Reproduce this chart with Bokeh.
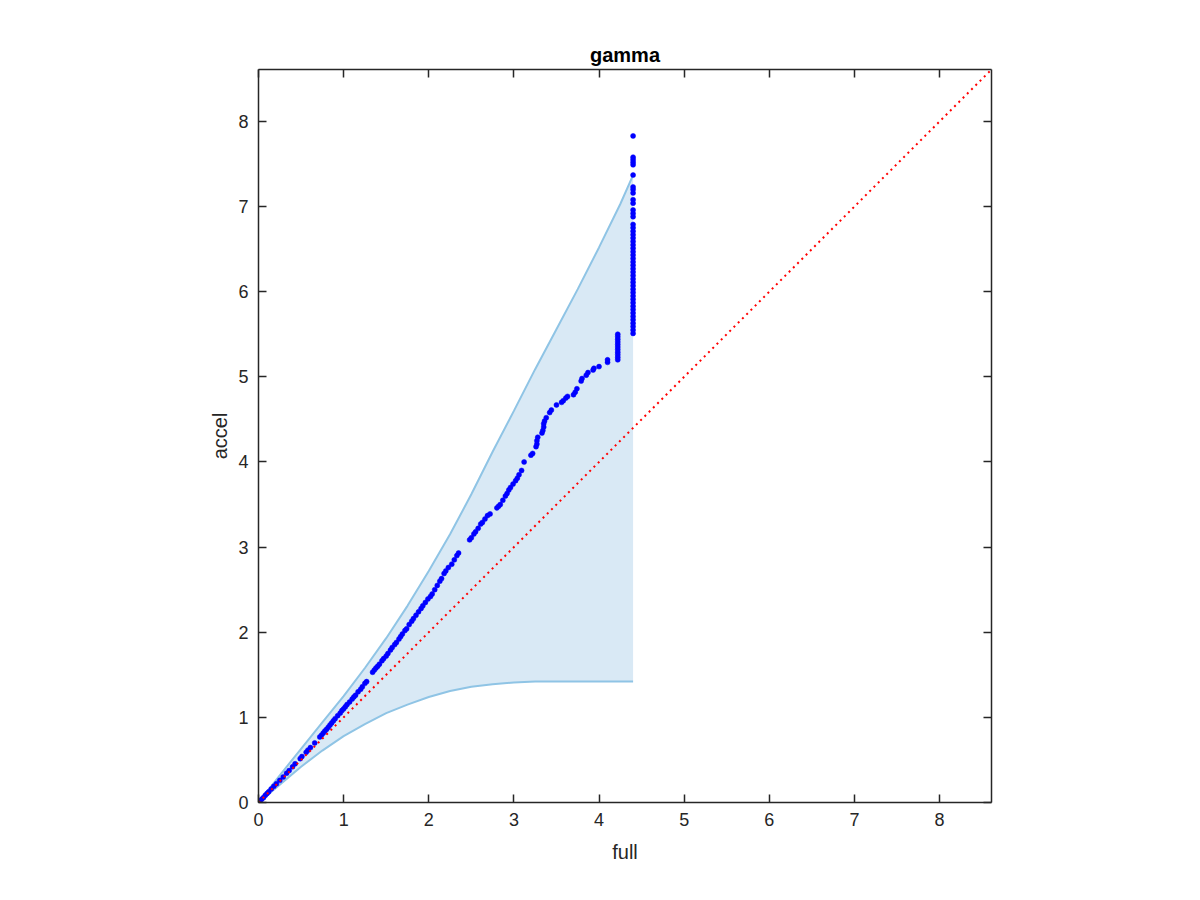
from bokeh.plotting import figure
from bokeh.models import Range1d, LinearAxis, FixedTicker
from bokeh.embed import file_html
from bokeh.resources import INLINE

# ---- data ----
band_x = [0, 0.25, 0.5, 0.75, 1.0, 1.25, 1.5, 1.75, 2.0, 2.25, 2.5, 2.75, 3.0, 3.25, 3.5, 3.75, 4.0, 4.25, 4.4]
band_upper = [0, 0.32, 0.63, 0.94, 1.25, 1.58, 1.93, 2.31, 2.72, 3.15, 3.62, 4.12, 4.60, 5.09, 5.56, 6.03, 6.52, 7.03, 7.37]
band_lower = [0, 0.21, 0.42, 0.61, 0.78, 0.92, 1.05, 1.15, 1.24, 1.31, 1.36, 1.39, 1.41, 1.42, 1.42, 1.42, 1.42, 1.42, 1.42]

full_vals = [
    0.00, 0.02, 0.04, 0.06, 0.08, 0.10, 0.12, 0.15, 0.18, 0.21, 0.25, 0.29, 0.33, 0.36, 0.40, 0.43,
    0.49, 0.51, 0.56, 0.58, 0.61, 0.66,
    0.72, 0.74, 0.76, 0.78, 0.80, 0.82, 0.84, 0.86, 0.88, 0.90, 0.93, 0.96, 0.98, 1.00, 1.02, 1.04,
    1.07, 1.10, 1.12, 1.14, 1.17, 1.20, 1.22, 1.25, 1.27,
    1.34, 1.36, 1.38, 1.40, 1.42, 1.45, 1.47, 1.50, 1.52, 1.55, 1.57, 1.60, 1.62, 1.65, 1.67, 1.69,
    1.72, 1.74, 1.77, 1.80, 1.82, 1.85, 1.88, 1.91, 1.93, 1.96, 1.99, 2.02, 2.04, 2.07, 2.10, 2.13,
    2.15, 2.18, 2.20, 2.23, 2.27, 2.30, 2.33, 2.35,
    2.48, 2.50, 2.53, 2.55, 2.58, 2.61, 2.63, 2.66, 2.69, 2.72, 2.80, 2.82, 2.84, 2.87, 2.90, 2.92,
    2.94, 2.96, 2.99, 3.02, 3.04, 3.06, 3.09, 3.12, 3.20, 3.22, 3.26, 3.27, 3.27, 3.28, 3.33, 3.34,
    3.35, 3.35, 3.36, 3.38, 3.42, 3.44, 3.50, 3.56, 3.58, 3.61, 3.63, 3.70, 3.72, 3.74, 3.79, 3.80,
    3.85, 3.87, 3.93, 3.94, 4.00, 4.10, 4.10,
    4.22, 4.22, 4.22, 4.22, 4.22, 4.22, 4.22, 4.22, 4.22, 4.22, 4.22,
    4.40, 4.40, 4.40, 4.40, 4.40, 4.40, 4.40, 4.40, 4.40, 4.40, 4.40, 4.40, 4.40, 4.40, 4.40, 4.40,
    4.40, 4.40, 4.40, 4.40, 4.40, 4.40, 4.40, 4.40, 4.40, 4.40, 4.40, 4.40, 4.40, 4.40, 4.40, 4.40,
    4.40, 4.40, 4.40, 4.40, 4.40, 4.40, 4.40, 4.40, 4.40, 4.40, 4.40, 4.40, 4.40, 4.40, 4.40,
]
accel_vals = [
    0.00, 0.02, 0.04, 0.06, 0.085, 0.105, 0.125, 0.16, 0.19, 0.22, 0.26, 0.30, 0.345, 0.375, 0.42, 0.455,
    0.515, 0.54, 0.59, 0.615, 0.645, 0.70,
    0.77, 0.79, 0.815, 0.84, 0.86, 0.885, 0.91, 0.935, 0.96, 0.985, 1.02, 1.05, 1.08, 1.10, 1.125, 1.15,
    1.18, 1.215, 1.24, 1.26, 1.30, 1.33, 1.36, 1.40, 1.42,
    1.53, 1.555, 1.58, 1.60, 1.625, 1.665, 1.69, 1.72, 1.75, 1.79, 1.82, 1.855, 1.88, 1.92, 1.95, 1.98,
    2.02, 2.04, 2.09, 2.13, 2.16, 2.20, 2.24, 2.28, 2.31, 2.35, 2.39, 2.42, 2.45, 2.50, 2.55, 2.60,
    2.63, 2.69, 2.72, 2.76, 2.80, 2.85, 2.90, 2.93,
    3.085, 3.11, 3.155, 3.18, 3.22, 3.27, 3.29, 3.33, 3.37, 3.39, 3.46, 3.48, 3.50, 3.55, 3.60, 3.63,
    3.67, 3.70, 3.74, 3.78, 3.81, 3.85, 3.90, 4.00, 4.08, 4.10, 4.18, 4.21, 4.25, 4.29, 4.34, 4.37,
    4.41, 4.45, 4.48, 4.52, 4.58, 4.61, 4.67, 4.70, 4.72, 4.75, 4.77, 4.79, 4.82, 4.86, 4.95, 4.98,
    5.02, 5.05, 5.08, 5.10, 5.12, 5.17, 5.20,
    5.20, 5.23, 5.26, 5.29, 5.32, 5.35, 5.38, 5.41, 5.44, 5.47, 5.50,
    5.51, 5.55, 5.59, 5.63, 5.67, 5.71, 5.75, 5.79, 5.83, 5.87, 5.91, 5.95, 5.99, 6.03, 6.07, 6.11,
    6.15, 6.19, 6.23, 6.27, 6.31, 6.35, 6.39, 6.43, 6.47, 6.51, 6.55, 6.59, 6.63, 6.67, 6.71, 6.75,
    6.79, 6.88, 6.92, 6.96, 7.04, 7.08, 7.16, 7.20, 7.23, 7.37, 7.49, 7.52, 7.55, 7.58, 7.83,
]
diag = [0, 8.61]
x_limits = (0, 8.61)
y_limits = (0, 8.61)
ticks = [0, 1, 2, 3, 4, 5, 6, 7, 8]

FONT = "Liberation Sans"
AX = "#262626"

p = figure(width=1184, height=884, output_backend="svg", toolbar_location=None,
           x_range=Range1d(*x_limits), y_range=Range1d(*y_limits),
           frame_width=733, frame_height=733,
           min_border_left=258, min_border_top=69, min_border_right=193, min_border_bottom=82,
           title="gamma")
p.title.align = "center"
p.title.text_font = FONT
p.title.text_font_size = "20px"
p.title.text_font_style = "bold"
p.title.text_color = "#000000"
p.title.standoff = 8
p.grid.visible = False
p.outline_line_color = None
p.background_fill_color = "white"

def style_axis(ax, labels=True):
    ax.ticker = FixedTicker(ticks=ticks)
    ax.axis_line_color = AX
    ax.axis_line_width = 1.5
    ax.major_tick_line_color = AX
    ax.major_tick_line_width = 1.5
    ax.major_tick_in = 8
    ax.major_tick_out = 0
    ax.minor_tick_line_color = None
    ax.major_label_text_font = FONT
    ax.major_label_text_font_size = "18px"
    ax.major_label_text_color = AX
    ax.axis_label_text_font = FONT
    ax.axis_label_text_font_size = "20px"
    ax.axis_label_text_font_style = "normal"
    ax.axis_label_text_color = AX
    if not labels:
        ax.major_label_overrides = {t: "" for t in ticks}

style_axis(p.xaxis[0])
style_axis(p.yaxis[0])
p.xaxis[0].axis_label = "full"
p.yaxis[0].axis_label = "accel"
p.xaxis[0].major_label_standoff = 10
p.yaxis[0].major_label_standoff = 10
p.xaxis[0].axis_label_standoff = 12
p.yaxis[0].axis_label_standoff = 4

top = LinearAxis()
right = LinearAxis()
style_axis(top, labels=False)
style_axis(right, labels=False)
top.major_label_standoff = 0
right.major_label_standoff = 0
p.add_layout(top, "above")
p.add_layout(right, "right")

# band
p.varea(x=band_x, y1=band_lower, y2=band_upper, fill_color="#d9e9f5", fill_alpha=1.0)
p.line(band_x, band_upper, line_color="#8fc4e5", line_width=2)
p.line(band_x, band_lower, line_color="#8fc4e5", line_width=2)

# points
p.scatter(full_vals, accel_vals, size=5, fill_color="#0000ff", line_color="#0000ff", line_width=0.5)

# diagonal
p.line(diag, diag, line_color="#ff0000", line_width=2, line_dash="2 4")

open("out.html", "w").write(file_html(p, INLINE))
